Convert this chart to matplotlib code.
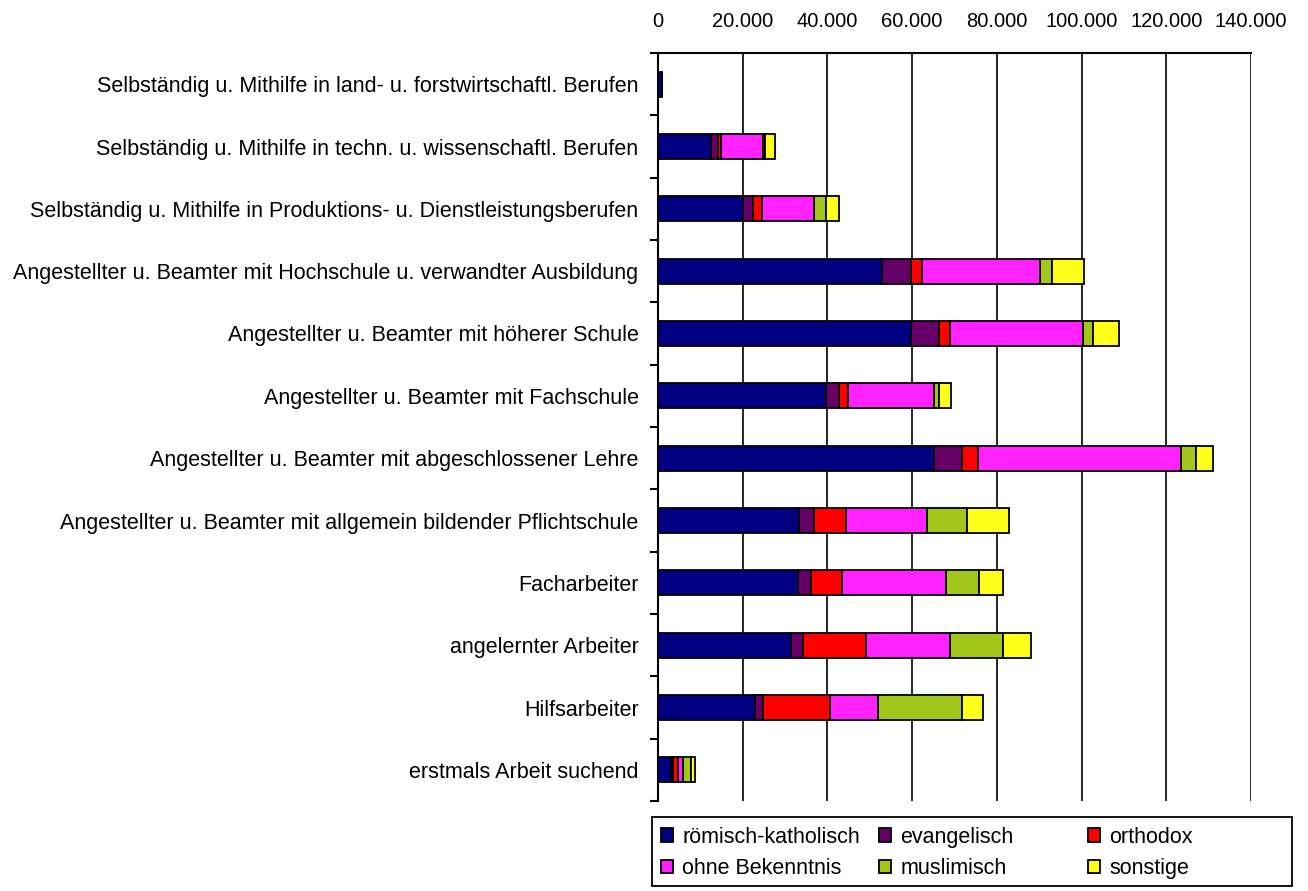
import numpy as np
import matplotlib.pyplot as plt
from matplotlib.ticker import FuncFormatter, FixedLocator
from matplotlib.patches import Rectangle

plt.rcParams['font.family'] = ['Liberation Sans', 'DejaVu Sans']

categories = [
    "Selbständig u. Mithilfe in land- u. forstwirtschaftl. Berufen",
    "Selbständig u. Mithilfe in techn. u. wissenschaftl. Berufen",
    "Selbständig u. Mithilfe in Produktions- u. Dienstleistungsberufen",
    "Angestellter u. Beamter mit Hochschule u. verwandter Ausbildung",
    "Angestellter u. Beamter mit höherer Schule",
    "Angestellter u. Beamter mit Fachschule",
    "Angestellter u. Beamter mit abgeschlossener Lehre",
    "Angestellter u. Beamter mit allgemein bildender Pflichtschule",
    "Facharbeiter",
    "angelernter Arbeiter",
    "Hilfsarbeiter",
    "erstmals Arbeit suchend",
]

# Werte je Religionsbekenntnis (Personen)
roemisch_katholisch = [850, 12500, 20100, 53000, 59700, 39700, 65200, 33300, 33100, 31400, 22900, 3000]
evangelisch = [20, 1700, 2400, 6700, 6600, 3000, 6600, 3500, 3000, 2800, 2000, 600]
orthodox = [5, 700, 2100, 2600, 2600, 2100, 3800, 7600, 7300, 14900, 15700, 1100]
ohne_bekenntnis = [40, 9800, 12200, 27900, 31400, 20300, 47800, 19100, 24500, 19800, 11300, 1100]
muslimisch = [5, 500, 2800, 2900, 2300, 1200, 3600, 9400, 8000, 12500, 19900, 1900]
sonstige = [20, 2500, 3200, 7500, 6300, 2900, 4000, 9900, 5500, 6700, 4900, 1000]

series = [roemisch_katholisch, evangelisch, orthodox, ohne_bekenntnis, muslimisch, sonstige]
labels = ["römisch-katholisch", "evangelisch", "orthodox",
          "ohne Bekenntnis", "muslimisch", "sonstige"]
colors = ["#000080", "#660066", "#FF0000", "#FF22FF", "#A3C61A", "#FFFF1A"]

fig = plt.figure(figsize=(13.08, 8.91), dpi=100)
ax = fig.add_axes([658 / 1308, 1 - 801 / 891, 593 / 1308, 748 / 891])

y = np.arange(len(categories))
left = np.zeros(len(categories))
bars = []
for vals, lab, col in zip(series, labels, colors):
    b = ax.barh(y, vals, left=left, height=0.4, color=col, edgecolor='black',
                linewidth=1.3, label=lab, zorder=3)
    bars.append(b)
    left += np.array(vals)

ax.set_xlim(0, 140000)
ax.set_ylim(len(categories) - 0.5, -0.5)
ax.set_xticks(np.arange(0, 140001, 20000))
ax.xaxis.set_major_formatter(FuncFormatter(lambda v, p: f"{int(v):,}".replace(",", ".")))
ax.xaxis.tick_top()
ax.tick_params(axis='x', length=0, pad=16, labelsize=14.5)
ax.grid(axis='x', color='black', linewidth=1.2, zorder=0)

ax.set_yticks(y)
ax.set_yticklabels(categories)
ax.yaxis.set_minor_locator(FixedLocator(np.arange(-0.5, len(categories), 1)))
ax.tick_params(axis='y', which='major', length=0, pad=14, labelsize=15.5)
ax.tick_params(axis='y', which='minor', length=6, width=1.5, direction='out')

for s in ['right', 'bottom']:
    ax.spines[s].set_visible(False)
ax.spines['top'].set_linewidth(1.5)
ax.spines['left'].set_linewidth(1.5)

# legend: three equal-width columns in one frame
fig.patches.append(Rectangle((652 / 1308, 1 - 886 / 891), 640 / 1308, 69 / 891,
                             transform=fig.transFigure, fill=False,
                             edgecolor='black', linewidth=1.3))
col_x = [661, 879, 1088]
for i, cx in enumerate(col_x):
    fig.legend([bars[i], bars[i + 3]], [labels[i], labels[i + 3]],
               loc='center left', bbox_to_anchor=(cx / 1308, 1 - 853 / 891),
               frameon=False, fontsize=15.5, borderpad=0, borderaxespad=0,
               handlelength=0.58, handleheight=0.58, handletextpad=0.4,
               labelspacing=0.5)

fig.savefig("out.png", dpi=100, facecolor='white')
